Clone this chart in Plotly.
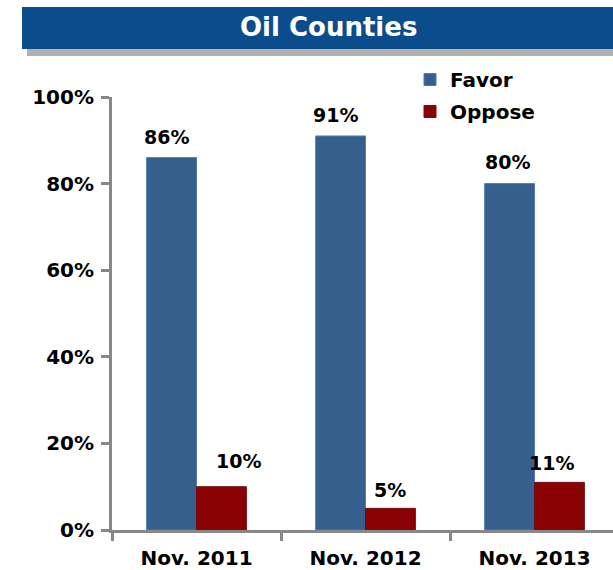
import plotly.graph_objects as go

categories = ["Nov. 2011", "Nov. 2012", "Nov. 2013"]
favor = [86, 91, 80]
oppose = [10, 5, 11]
y_ticks = [0, 20, 40, 60, 80, 100]
y_tick_labels = ["0%", "20%", "40%", "60%", "80%", "100%"]
title_text = "Oil Counties"

# label nudges (pixels) to mimic the reference layout
favor_label_dx = [-5, -5, -2]
favor_label_dy = [21, 21, 22]
oppose_label_dx = [17, 0, -8]
oppose_label_dy = [26, 18, 19]

FONT = "DejaVu Sans"
BLUE = "#365F8E"
RED = "#8B0204"
AXIS = "#888888"

W, H = 613, 570
L, T = 112, 97
BOTTOM = 530
B = H - BOTTOM
pw, ph = W - L, BOTTOM - T


def px_x(x):
    return (x - L) / pw


def px_y(y):
    return (BOTTOM - y) / ph


bargap = 0.41
half = (1 - bargap) / 4

fig = go.Figure()
fig.add_trace(go.Bar(name="Favor", x=categories, y=favor,
                     marker=dict(color=BLUE, line=dict(color="#4F7DB3", width=1)), legendgroup="a"))
fig.add_trace(go.Bar(name="Oppose", x=categories, y=oppose,
                     marker=dict(color=RED, line=dict(color="#6E1010", width=1)), legendgroup="b"))

annotations = []
for i, v in enumerate(favor):
    annotations.append(dict(x=i - half, y=v, xref="x", yref="y", text=f"<b>{v}%</b>", showarrow=False,
                            yanchor="middle", yshift=favor_label_dy[i], xshift=favor_label_dx[i],
                            font=dict(family=FONT, size=19, color="black")))
for i, v in enumerate(oppose):
    annotations.append(dict(x=i + half, y=v, xref="x", yref="y", text=f"<b>{v}%</b>", showarrow=False,
                            yanchor="middle", yshift=oppose_label_dy[i], xshift=oppose_label_dx[i],
                            font=dict(family=FONT, size=19, color="black")))
annotations.append(dict(x=px_x(328), y=px_y(27), xref="paper", yref="paper", text=f"<b>{title_text}</b>",
                        showarrow=False, font=dict(family=FONT, size=26, color="white"),
                        xanchor="center", yanchor="middle"))

shapes = [
    dict(type="rect", xref="paper", yref="paper", x0=px_x(27), x1=px_x(640), y0=px_y(56), y1=px_y(48),
         fillcolor="#B0B0B0", line=dict(width=0), layer="below"),
    dict(type="rect", xref="paper", yref="paper", x0=px_x(22), x1=px_x(640), y0=px_y(49), y1=px_y(7),
         fillcolor="#0B4D8C", line=dict(width=0)),
]

tickfont = dict(family=FONT, size=20, color="black", weight="bold")

fig.update_layout(
    width=W, height=H,
    margin=dict(l=L, r=0, t=T, b=B),
    paper_bgcolor="white", plot_bgcolor="white",
    barmode="group", bargap=bargap, bargroupgap=0,
    showlegend=True,
    legend=dict(x=px_x(410), y=px_y(60), xanchor="left", yanchor="top",
                font=dict(family=FONT, size=20, color="black", weight="bold"),
                traceorder="grouped", tracegroupgap=3, bgcolor="rgba(0,0,0,0)"),
    annotations=annotations,
    shapes=shapes,
    xaxis=dict(range=[-0.5, 2.5 - (3 * 169 - 501) / 169], showline=True, linecolor=AXIS, linewidth=3,
               ticks="outside", tickson="boundaries", ticklen=8, tickwidth=3, tickcolor=AXIS,
               showgrid=False, tickfont=tickfont, ticklabelstandoff=8),
    yaxis=dict(range=[0, 100], tickvals=y_ticks, ticktext=y_tick_labels, showline=True, linecolor=AXIS,
               linewidth=3, ticks="outside", ticklen=8, tickwidth=3, tickcolor=AXIS, showgrid=False,
               zeroline=False, tickfont=tickfont, ticklabelstandoff=3),
)

fig.write_html("out.html", config={"displayModeBar": False},
               post_script="document.body.style.margin='0';document.body.style.overflow='hidden';")
